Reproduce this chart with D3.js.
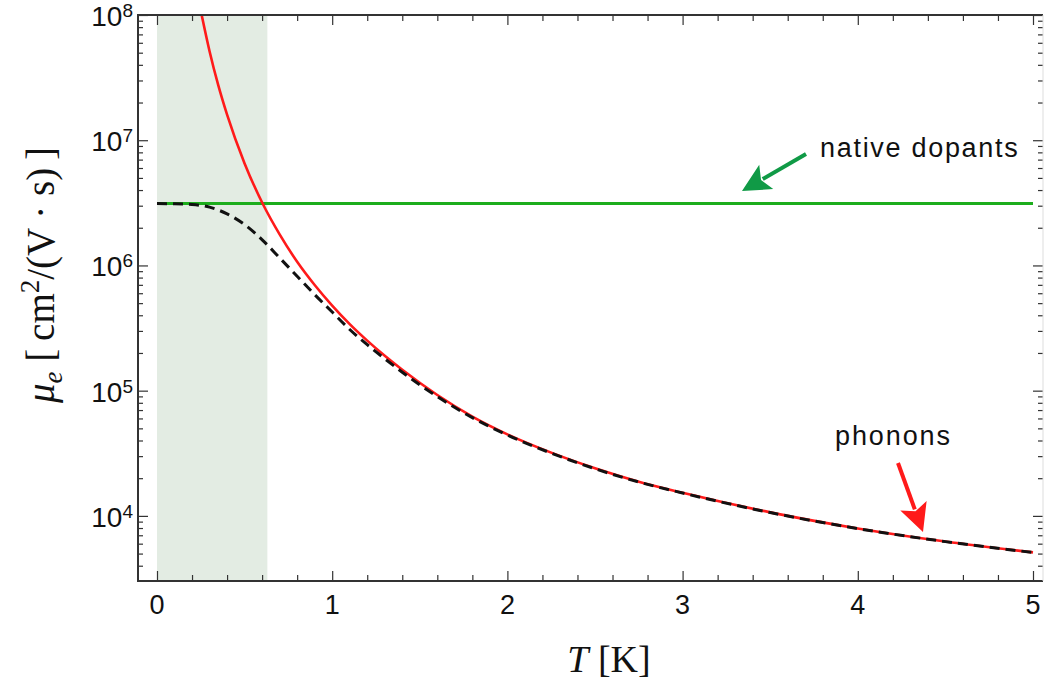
<!DOCTYPE html>
<html>
<head>
<meta charset="utf-8">
<script src="https://cdn.jsdelivr.net/npm/d3@7"></script>
<style>
  body { margin: 0; background: #fff; }
  .sans { font-family: "Liberation Sans", Arial, sans-serif; }
  .serif { font-family: "Liberation Serif", "DejaVu Serif", serif; }
</style>
</head>
<body>
<svg id="chart" width="1045" height="683"></svg>
<script>
/* values */
var bandT = [0, 0.63];

var dopantT = [0, 5];
var dopantMu = [3.12e6, 3.12e6];

var phononT = [0.255, 0.30, 0.35, 0.40, 0.50, 0.605, 0.70, 0.80, 0.90, 1.0, 1.1, 1.2, 1.3, 1.4,
  1.6, 1.8, 2.0, 2.25, 2.5, 2.75, 3.0, 3.5, 4.0, 4.5, 5.0];
var phononMu = [1.0e8, 5.14e7, 2.74e7, 1.6e7, 6.53e6, 3.08e6, 1.77e6, 1.07e6, 6.98e5, 4.78e5, 3.4e5, 2.51e5, 1.9e5, 1.47e5,
  9.23e4, 6.21e4, 4.48e4, 3.2e4, 2.4e4, 1.875e4, 1.53e4, 1.067e4, 7.94e3, 6.24e3, 5.11e3];

var totalT = [0, 0.1, 0.2, 0.3, 0.4, 0.5, 0.605, 0.7, 0.8, 0.9, 1.0, 1.1, 1.2, 1.3, 1.4,
  1.6, 1.8, 2.0, 2.25, 2.5, 2.75, 3.0, 3.5, 4.0, 4.5, 5.0];
var totalMu = [3.12e6, 3.11e6, 3.07e6, 2.92e6, 2.58e6, 2.12e6, 1.58e6, 1.15e6, 8.2e5, 5.85e5, 4.25e5, 3.08e5, 2.33e5, 1.8e5, 1.403e5,
  8.96e4, 6.09e4, 4.42e4, 3.17e4, 2.38e4, 1.864e4, 1.523e4, 1.063e4, 7.92e3, 6.23e3, 5.1e3];

var xMajor = [0, 1, 2, 3, 4, 5];
var yMajorExp = [4, 5, 6, 7, 8];

var dopant_color = "#1cad1c";
var phonon_color = "#ff1a1a";
var arrow_green = "#109a46";

var svg = d3.select("#chart");

var x = d3.scaleLinear()
    .domain([-0.1084, 5.0571])
    .range([138, 1043]);

var y = d3.scaleLog()
    .domain([Math.pow(10, 3.48), 1e8])
    .range([581, 15]);

var line = d3.line()
    .x(d => x(d[0]))
    .y(d => y(d[1]))
    .curve(d3.curveMonotoneX);

/* clip to plot box */
svg.append("clipPath").attr("id", "clip")
    .append("rect")
    .attr("x", 138).attr("y", 15)
    .attr("width", 1043 - 138).attr("height", 581 - 15);

var plot = svg.append("g").attr("clip-path", "url(#clip)");

/* shaded low temperature band */
plot.append("rect")
    .attr("x", x(bandT[0]))
    .attr("y", 15)
    .attr("width", x(bandT[1]) - x(bandT[0]))
    .attr("height", 581 - 15)
    .attr("fill", "#e3ece3");

/* curves */
plot.append("path")
    .datum(d3.zip(dopantT, dopantMu))
    .attr("d", line)
    .attr("fill", "none")
    .attr("stroke", dopant_color)
    .attr("stroke-width", 3);

plot.append("path")
    .datum(d3.zip(phononT, phononMu))
    .attr("d", line)
    .attr("fill", "none")
    .attr("stroke", phonon_color)
    .attr("stroke-width", 2.6);

plot.append("path")
    .datum(d3.zip(totalT, totalMu))
    .attr("d", line)
    .attr("fill", "none")
    .attr("stroke", "#111")
    .attr("stroke-dasharray", "10,6")
    .attr("stroke-width", 3);

/* ticks, pointing inward */
var xMinor = d3.range(0, 5.01, 0.2).filter(v => Math.abs(v - Math.round(v)) > 1e-6);
var yMinor = [];
yMajorExp.forEach(function(e) {
    for (var k = 2; k <= 9; k++) yMinor.push(k * Math.pow(10, e - 1));
});
yMinor = yMinor.filter(v => v > y.domain()[0] && v < 1e8);

function addAxis(axisFn, scale, values, size, transform) {
    var g = svg.append("g")
        .attr("transform", transform)
        .call(axisFn(scale).tickValues(values).tickSizeInner(-size).tickSizeOuter(0).tickFormat(""));
    g.select(".domain").remove();
    g.selectAll("line").attr("stroke", "#333").attr("stroke-width", 1.2);
}
addAxis(d3.axisBottom, x, xMajor, 10, "translate(0,581)");
addAxis(d3.axisBottom, x, xMinor, 6, "translate(0,581)");
addAxis(d3.axisTop, x, xMajor, 10, "translate(0,15)");
addAxis(d3.axisTop, x, xMinor, 6, "translate(0,15)");
addAxis(d3.axisLeft, y, yMajorExp.map(e => Math.pow(10, e)), 10, "translate(138,0)");
addAxis(d3.axisLeft, y, yMinor, 5, "translate(138,0)");
addAxis(d3.axisRight, y, yMajorExp.map(e => Math.pow(10, e)), 10, "translate(1043,0)");
addAxis(d3.axisRight, y, yMinor, 5, "translate(1043,0)");

/* frame */
svg.append("path")
    .attr("d", "M1043,15H138V581H1043")
    .attr("fill", "none")
    .attr("stroke", "#333")
    .attr("stroke-width", 2);
svg.append("line")
    .attr("x1", 1043).attr("x2", 1043).attr("y1", 15).attr("y2", 581)
    .attr("stroke", "#ddd")
    .attr("stroke-width", 1);

/* tick labels */
svg.selectAll("text.xlab")
    .data(xMajor)
    .enter()
    .append("text")
    .attr("class", "xlab sans")
    .attr("x", d => x(d))
    .attr("y", 614)
    .attr("text-anchor", "middle")
    .attr("font-size", 27)
    .attr("fill", "#111")
    .text(d => d);

var ylab = svg.selectAll("text.ylab")
    .data(yMajorExp)
    .enter()
    .append("text")
    .attr("class", "ylab sans")
    .attr("x", 133)
    .attr("y", d => y(Math.pow(10, d)) + 11)
    .attr("text-anchor", "end")
    .attr("font-size", 28)
    .attr("fill", "#111");
ylab.append("tspan").text("10");
ylab.append("tspan")
    .attr("dy", -9)
    .attr("font-size", 19)
    .text(d => d);

/* axis titles */
svg.append("text")
    .attr("class", "serif")
    .attr("x", 609)
    .attr("y", 672)
    .attr("text-anchor", "middle")
    .attr("font-size", 38)
    .attr("fill", "#111")
    .call(t => {
        t.append("tspan").attr("font-style", "italic").text("T");
        t.append("tspan").text(" [K]");
    });

svg.append("text")
    .attr("class", "serif")
    .attr("transform", "translate(54,275) rotate(-90)")
    .attr("text-anchor", "middle")
    .attr("font-size", 39)
    .attr("fill", "#111")
    .call(t => {
        t.append("tspan").attr("font-style", "italic").text("\u03BC");
        t.append("tspan").attr("font-style", "italic").attr("font-size", 27).attr("dy", 8).text("e");
        t.append("tspan").attr("dy", -8).text(" [\u2009cm");
        t.append("tspan").attr("font-size", 27).attr("dy", -15).text("2");
        t.append("tspan").attr("dy", 15).text("/(V \u00B7 s)\u2009]");
    });

/* annotations */
function arrow(x1, y1, x2, y2, color) {
    var dx = x2 - x1, dy = y2 - y1;
    var len = Math.sqrt(dx * dx + dy * dy);
    var ux = dx / len, uy = dy / len;
    var hl = 28, hw = 14;
    var bx = x2 - ux * hl, by = y2 - uy * hl;
    svg.append("line")
        .attr("x1", x1).attr("y1", y1)
        .attr("x2", bx + ux * 4).attr("y2", by + uy * 4)
        .attr("stroke", color)
        .attr("stroke-width", 4);
    svg.append("path")
        .attr("d", "M" + x2 + "," + y2 +
            "L" + (bx - uy * hw) + "," + (by + ux * hw) +
            "L" + (bx + ux * 6) + "," + (by + uy * 6) +
            "L" + (bx + uy * hw) + "," + (by - ux * hw) + "Z")
        .attr("fill", color);
}

svg.append("text")
    .attr("class", "sans")
    .attr("x", 820)
    .attr("y", 157)
    .attr("font-size", 27)
    .attr("letter-spacing", 1.7)
    .attr("fill", "#111")
    .text("native dopants");
arrow(806, 154, 742, 191, arrow_green);

svg.append("text")
    .attr("class", "sans")
    .attr("x", 835)
    .attr("y", 445)
    .attr("font-size", 27)
    .attr("letter-spacing", 1.9)
    .attr("fill", "#111")
    .text("phonons");
arrow(898, 463, 923, 532, phonon_color);
</script>
</body>
</html>
